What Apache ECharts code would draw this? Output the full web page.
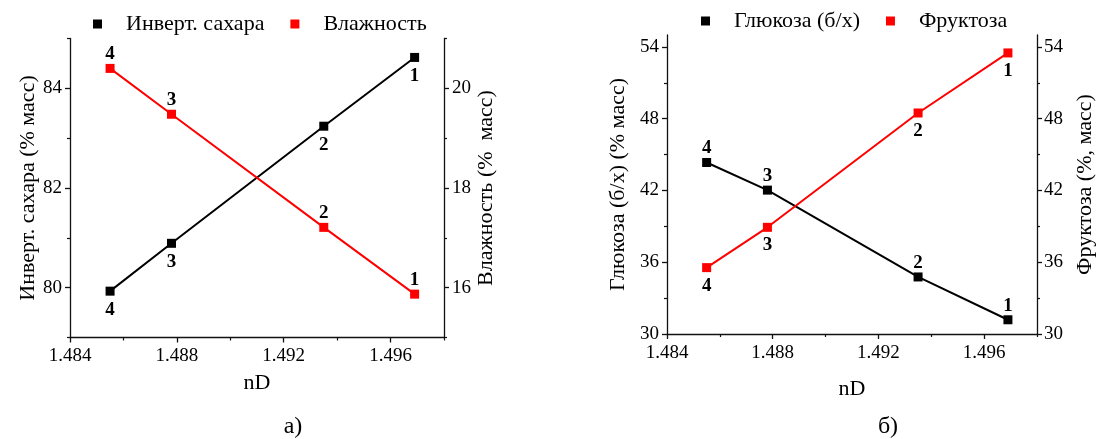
<!DOCTYPE html>
<html><head><meta charset="utf-8">
<script src="https://cdn.jsdelivr.net/npm/echarts@6/dist/echarts.min.js"></script>
<style>html,body{margin:0;padding:0;background:#fff}#c{width:1098px;height:439px}</style>
</head><body><div id="c"></div>
<script>
// ---- data ----
const nD = [1.4855, 1.4878, 1.4935, 1.4969];
const pointLabels = ['4', '3', '2', '1'];
const invertSugar = [79.93, 80.89, 83.24, 84.62];
const moisture = [20.40, 19.48, 17.21, 15.87];
const glucose = [44.34, 42.03, 34.77, 31.19];
const fructose = [35.55, 38.92, 48.48, 53.50];
// ---- tick labels ----
const xTicks = [1.484, 1.488, 1.492, 1.496];
const xMinorTicks = [1.486, 1.490, 1.494, 1.498];
const invertTicks = [80, 82, 84];
const invertMinorTicks = [79, 81, 83, 85];
const moistureTicks = [16, 18, 20];
const moistureMinorTicks = [15, 17, 19, 21];
const sugarTicks = [30, 36, 42, 48, 54];
const sugarMinorTicks = [33, 39, 45, 51];

const FONT = '"Liberation Serif", "Times New Roman", serif';
const INK = '#000';
const AX = '#111';

function mainAxis(o) {
  return {
    type: 'value', gridIndex: o.grid, position: o.pos, min: o.min, max: o.max,
    name: o.name, nameLocation: 'middle', nameGap: o.gap, nameRotate: o.rot,
    nameMoveOverlap: false,
    nameTextStyle: {fontFamily: FONT, fontSize: 22, color: INK},
    axisLine: {show: true, onZero: false, lineStyle: {color: AX, width: 1.3}},
    axisTick: {show: true, inside: false, length: 5, customValues: o.ticks, lineStyle: {color: AX, width: 1.3}},
    axisLabel: {show: true, customValues: o.ticks, margin: o.margin, formatter: o.fmt,
      fontFamily: FONT, fontSize: 19, color: INK},
    splitLine: {show: false}
  };
}
function minorAxis(o) {
  return {
    type: 'value', gridIndex: o.grid, position: o.pos, min: o.min, max: o.max,
    axisLine: {show: false, onZero: false},
    axisTick: {show: true, inside: false, length: 3, customValues: o.ticks, lineStyle: {color: AX, width: 1.2}},
    axisLabel: {show: false},
    splitLine: {show: false}
  };
}
const xfmt = v => Number(v).toFixed(3);

function lineSeries(name, xi, yi, ys, color, labelPos, dist) {
  return {
    type: 'line', name: name, xAxisIndex: xi, yAxisIndex: yi,
    data: nD.map((x, i) => [x, ys[i]]),
    symbol: 'rect', symbolSize: 9,
    itemStyle: {color: color},
    lineStyle: {color: color, width: 2},
    label: {show: true, position: labelPos, distance: dist,
      formatter: p => pointLabels[p.dataIndex],
      fontFamily: FONT, fontWeight: 'bold', fontSize: 19, color: INK},
    emphasis: {disabled: true},
    animation: false
  };
}

const chart = echarts.init(document.getElementById('c'), null, {renderer: 'canvas'});
chart.setOption({
  backgroundColor: '#fff',
  animation: false,
  textStyle: {fontFamily: FONT, color: INK},
  grid: [
    {left: 70, right: 654, top: 38.5, bottom: 101.5, outerBoundsMode: 'none'},
    {left: 667, right: 61, top: 35, bottom: 105, outerBoundsMode: 'none'}
  ],
  legend: [
    {left: 93, top: 13, padding: 0, itemWidth: 47, itemHeight: 9, itemGap: 26,
     icon: 'path://M0,0h10v10h-10z', symbolKeepAspect: true,
     data: ['Инверт. сахара', 'Влажность'],
     textStyle: {fontFamily: FONT, fontSize: 22, color: INK}},
    {left: 701, top: 10, padding: 0, itemWidth: 47, itemHeight: 9, itemGap: 26,
     icon: 'path://M0,0h10v10h-10z', symbolKeepAspect: true,
     data: ['Глюкоза (б/х)', 'Фруктоза'],
     textStyle: {fontFamily: FONT, fontSize: 22, color: INK}}
  ],
  xAxis: [
    mainAxis({grid: 0, pos: 'bottom', min: 1.484, max: 1.498, name: 'nD', gap: 35, ticks: xTicks, margin: 9, fmt: xfmt}),
    minorAxis({grid: 0, pos: 'bottom', min: 1.484, max: 1.498, ticks: xMinorTicks}),
    mainAxis({grid: 1, pos: 'bottom', min: 1.484, max: 1.498, name: 'nD', gap: 44, ticks: xTicks, margin: 10, fmt: xfmt}),
    minorAxis({grid: 1, pos: 'bottom', min: 1.484, max: 1.498, ticks: xMinorTicks})
  ],
  yAxis: [
    mainAxis({grid: 0, pos: 'left', min: 79, max: 85, name: 'Инверт. сахара (% масс)', gap: 31, rot: 90, ticks: invertTicks, margin: 8}),
    mainAxis({grid: 0, pos: 'right', min: 15, max: 21, name: 'Влажность (%  масс)', gap: 31, rot: 90, ticks: moistureTicks, margin: 8}),
    minorAxis({grid: 0, pos: 'left', min: 79, max: 85, ticks: invertMinorTicks}),
    minorAxis({grid: 0, pos: 'right', min: 15, max: 21, ticks: moistureMinorTicks}),
    mainAxis({grid: 1, pos: 'left', min: 30, max: 55, name: 'Глюкоза (б/х) (% масс)', gap: 38, rot: 90, ticks: sugarTicks, margin: 8}),
    mainAxis({grid: 1, pos: 'right', min: 30, max: 55, name: 'Фруктоза (%, масс)', gap: 37, rot: 90, ticks: sugarTicks, margin: 7}),
    minorAxis({grid: 1, pos: 'left', min: 30, max: 55, ticks: sugarMinorTicks}),
    minorAxis({grid: 1, pos: 'right', min: 30, max: 55, ticks: sugarMinorTicks})
  ],
  series: [
    lineSeries('Инверт. сахара', 0, 0, invertSugar, '#000', 'bottom', 5),
    lineSeries('Влажность', 0, 1, moisture, '#ff0000', 'top', 0),
    lineSeries('Глюкоза (б/х)', 2, 4, glucose, '#000', 'top', 0),
    lineSeries('Фруктоза', 2, 5, fructose, '#ff0000', 'bottom', 4)
  ],
  graphic: [
    {type: 'text', x: 293, y: 427, style: {text: 'а)', fill: INK, font: '24px "Liberation Serif"', align: 'center', verticalAlign: 'middle'}},
    {type: 'text', x: 888, y: 427, style: {text: 'б)', fill: INK, font: '24px "Liberation Serif"', align: 'center', verticalAlign: 'middle'}}
  ]
});
</script></body></html>
